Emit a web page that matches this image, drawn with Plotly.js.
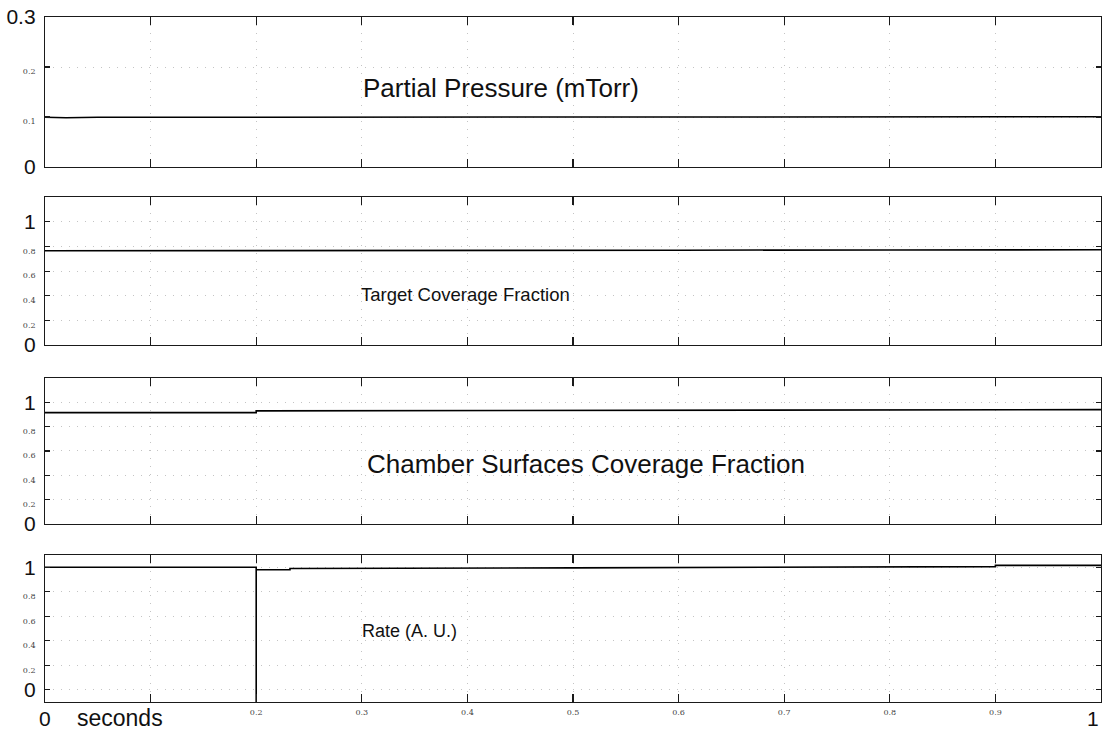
<!DOCTYPE html>
<html>
<head>
<meta charset="utf-8">
<script src="https://cdn.plot.ly/plotly-3.0.1.min.js"></script>
<style>html,body{margin:0;padding:0;background:#fff;}#chart{width:1105px;height:730px;}</style>
</head>
<body>
<div id="chart"></div>
<script>
// ---- data ----
const pressureT = [0, 0.01, 0.02, 0.05, 0.1, 0.2, 0.2, 0.3, 0.5, 0.7, 0.9, 1.0];
const pressureV = [0.0995, 0.0985, 0.0985, 0.0995, 0.0995, 0.0998, 0.1005, 0.1005, 0.1005, 0.1005, 0.1005, 0.1005];

const targetT = [0, 0.2, 0.4, 0.6, 0.8, 1.0];
const targetV = [0.765, 0.765, 0.768, 0.77, 0.772, 0.773];

const chamberT = [0, 0.2, 0.2, 0.4, 0.6, 0.8, 1.0];
const chamberV = [0.915, 0.915, 0.93, 0.932, 0.935, 0.938, 0.94];

const rateT = [0, 0.2, 0.2, 0.2, 0.232, 0.232, 0.5, 0.7, 0.9, 0.9, 1.0];
const rateV = [1.0, 1.0, -0.1, 0.98, 0.98, 0.99, 0.995, 1.0, 1.005, 1.015, 1.015];

const panelTitles = ["Partial Pressure (mTorr)", "Target Coverage Fraction",
                     "Chamber Surfaces Coverage Fraction", "Rate (A. U.)"];

const xTickVals = [0, 0.1, 0.2, 0.3, 0.4, 0.5, 0.6, 0.7, 0.8, 0.9, 1];
const xTickText = ["0", "", "0.2", "0.3", "0.4", "0.5", "0.6", "0.7", "0.8", "0.9", "1"];
const xBigVals = [0, 1];

const y1TickVals = [0, 0.1, 0.2, 0.3];
const y1TickText = ["0", "0.1", "0.2", "0.3"];
const yFracTickVals = [0, 0.2, 0.4, 0.6, 0.8, 1];
const yFracTickText = ["0", "0.2", "0.4", "0.6", "0.8", "1"];

// ---- styling helpers ----
function small(s){ return s ? '<span style="font-size:8px;font-family:DejaVu Serif;fill:#444">' + s + '</span>' : s; }
function styleText(vals, texts, bigVals){
  return texts.map((t, i) => bigVals.includes(vals[i]) ? t : small(t));
}

const lineStyle = {color: '#000', width: 1.6};
const traces = [
  {x: pressureT, y: pressureV, xaxis: 'x', yaxis: 'y', mode: 'lines', line: lineStyle},
  {x: targetT, y: targetV, xaxis: 'x2', yaxis: 'y2', mode: 'lines', line: lineStyle},
  {x: chamberT, y: chamberV, xaxis: 'x3', yaxis: 'y3', mode: 'lines', line: lineStyle},
  {x: rateT, y: rateV, xaxis: 'x4', yaxis: 'y4', mode: 'lines', line: lineStyle}
];

const axisCommon = {
  showline: true, linecolor: '#1a1a1a', linewidth: 1.2, mirror: 'ticks',
  ticks: 'inside', tickcolor: '#1a1a1a', tickwidth: 1.2,
  showgrid: true, gridcolor: '#c4c4c4', griddash: '1px,7px', gridwidth: 1,
  zeroline: false, fixedrange: true, ticklabeloverflow: 'allow',
  tickfont: {family: 'Liberation Sans, Arial, sans-serif', size: 21, color: '#111'}
};

function xAxis(domainAnchor, showLabels){
  return Object.assign({}, axisCommon, {
    domain: [0, 1], range: [0, 1], anchor: domainAnchor, ticklen: 8,
    tickmode: 'array', tickvals: xTickVals,
    ticktext: xTickText.map((t, i) => xBigVals.includes(xTickVals[i]) ? '' : t),
    tickfont: {family: 'DejaVu Serif', size: 8, color: '#444'},
    showticklabels: showLabels, ticklabelstandoff: 2
  });
}
function yAxis(domain, range, vals, texts, bigVals, anchor){
  return Object.assign({}, axisCommon, {
    domain: domain, range: range, anchor: anchor, ticklen: 5,
    tickmode: 'array', tickvals: vals, ticktext: styleText(vals, texts, bigVals),
    ticklabelstandoff: 4
  });
}

const bigXLabels = xTickVals.map((v, i) => ({v: v, t: xTickText[i]}))
  .filter(o => xBigVals.includes(o.v))
  .map(o => ({text: o.t, xref: 'x4', yref: 'paper', x: o.v, y: 0, yshift: -16,
              xanchor: o.v >= 1 ? 'right' : 'center', yanchor: 'middle',
              showarrow: false, font: {size: 21, color: '#111'}}));

const layout = {
  width: 1105, height: 730,
  margin: {l: 45, r: 4, t: 17, b: 28},
  paper_bgcolor: '#fff', plot_bgcolor: '#fff',
  showlegend: false,
  font: {family: 'Liberation Sans, Arial, sans-serif', color: '#000'},
  xaxis: xAxis('y', false),
  xaxis2: xAxis('y2', false),
  xaxis3: xAxis('y3', false),
  xaxis4: xAxis('y4', true),
  yaxis: yAxis([0.781, 1.0], [0, 0.3], y1TickVals, y1TickText, [0, 0.3], 'x'),
  yaxis2: yAxis([0.521, 0.737], [0, 1.2], yFracTickVals, yFracTickText, [0, 1], 'x2'),
  yaxis3: yAxis([0.260, 0.473], [0, 1.2], yFracTickVals, yFracTickText, [0, 1], 'x3'),
  yaxis4: yAxis([0, 0.2146], [-0.1, 1.1], yFracTickVals, yFracTickText, [0, 1], 'x4'),
  annotations: [
    {text: panelTitles[0], xref: 'x', yref: 'y', x: 0.432, y: 0.158, showarrow: false, font: {size: 26, color: '#111'}},
    {text: panelTitles[1], xref: 'x2', yref: 'y2', x: 0.398, y: 0.41, showarrow: false, font: {size: 18.5, color: '#111'}},
    {text: panelTitles[2], xref: 'x3', yref: 'y3', x: 0.512, y: 0.49, showarrow: false, font: {size: 26, color: '#111'}},
    {text: panelTitles[3], xref: 'x4', yref: 'y4', x: 0.345, y: 0.478, showarrow: false, font: {size: 18, color: '#111'}},
    {text: 'seconds', xref: 'x4', yref: 'paper', x: 0.071, y: 0, yshift: -16, yanchor: 'middle', showarrow: false, font: {size: 23, color: '#111'}}
  ].concat(bigXLabels)
};

Plotly.newPlot('chart', traces, layout, {staticPlot: true, displayModeBar: false});
</script>
</body>
</html>
